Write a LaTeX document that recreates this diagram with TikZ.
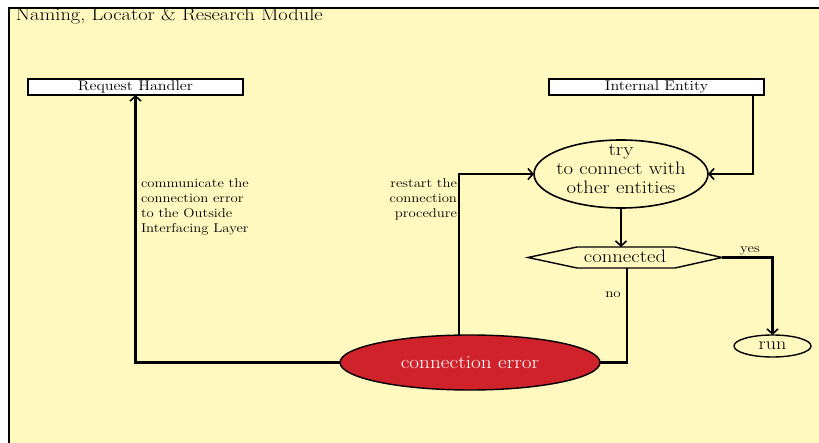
\documentclass[tikz,border=0pt]{standalone}
\usepackage{fontspec}
\setmainfont{Latin Modern Roman}[FakeStretch=1.15]
\usetikzlibrary{arrows.meta,shapes.geometric,calc}
\definecolor{modfill}{HTML}{FFF9C0}
\definecolor{errred}{HTML}{D0222B}
\begin{document}
\begin{tikzpicture}[x=1pt,y=-1pt,
  every node/.style={inner sep=0pt,outer sep=0pt},
  hdrbox/.style={draw,line width=2pt,fill=white,minimum width=215pt,minimum height=16pt,font=\fontsize{14}{15}\selectfont},
  flow/.style={line width=2.2pt,-{Straight Barb[length=5pt,width=11pt,line width=1.6pt]}},
  flowthick/.style={line width=2.8pt},
  lbl/.style={font=\fontsize{12.8}{14.8}\selectfont}]
\useasboundingbox (0,0) rectangle (819,443);
\clip (0,0) rectangle (819,443);
\fill[white] (0,0) rectangle (819,443);
% module frame
\draw[line width=2pt,fill=modfill] (9,8) rectangle (840,470);
\node[anchor=base west,font=\fontsize{17.8}{19}\selectfont] (title) at (16,21) {Naming, Locator \& Research Module};
% boxes
\node[hdrbox] (req) at (135.5,87) {Request Handler};
\node[hdrbox] (ent) at (656.5,87) {Internal Entity};
% flow nodes
\node[draw,line width=1.6pt,ellipse,minimum width=174pt,minimum height=68pt] (try) at (621,174) {};
\node[align=center,font=\fontsize{18}{19}\selectfont] (trytext) at (621,169) {try\\to connect with\\other entities};
\node[minimum width=194pt,minimum height=21pt] (conn) at (625,257.5) {};
\node[font=\fontsize{18}{19}\selectfont] (conntext) at (625,256) {connected};
\draw[line width=1.4pt] (conn.west) -- ([xshift=49pt]conn.north west) -- ([xshift=-47pt]conn.north east) -- (conn.east) -- ([xshift=-47pt]conn.south east) -- ([xshift=49pt]conn.south west) -- cycle;
\node[draw,line width=1.4pt,ellipse,minimum width=77pt,minimum height=22pt,inner xsep=-3pt,inner ysep=-3pt,font=\fontsize{17.5}{18}\selectfont] (run) at (772.5,346) {run};
\node[draw,line width=1.4pt,ellipse,fill=errred,text=white,minimum width=260pt,minimum height=55pt,font=\fontsize{18.5}{19}\selectfont] (err) at (470,362.5) {connection error};
% connectors
\draw[flow] (ent.south -| 753,0) |- (try.east);
\draw[flow] (try.south) -- (conn.north -| try.south);
\draw[flowthick,-{Straight Barb[length=5pt,width=11pt,line width=1.6pt]}] (conn.east) -| (run.north);
\draw[flowthick] (conn.south -| 627,0) |- (err.east);
\draw[flow] (err.west) -| (req.south);
\draw[flow] (err.north -| 459,0) |- (try.west);
% labels
\node[font=\fontsize{13}{14}\selectfont] (yes) at (750,251) {yes};
\node[font=\fontsize{13}{14}\selectfont] (no) at (613,295) {no};
\node[lbl,anchor=north west,align=left] (comm) at (141,179) {communicate the\\connection error\\to the Outside\\Interfacing Layer};
\node[lbl,anchor=north east,align=right] (rest) at (457,179) {restart the\\connection\\procedure};
\end{tikzpicture}
\end{document}
